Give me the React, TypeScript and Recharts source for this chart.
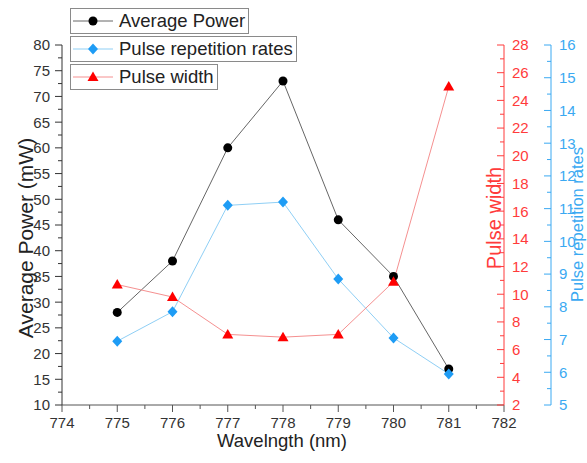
import { LineChart, Line, XAxis, YAxis, Legend, Label } from 'recharts';

// wavelength in nm
const wavelengths = [775, 776, 777, 778, 779, 780, 781];
const averagePower = [28, 38, 60, 73, 46, 35, 17];
const repetitionRates = [6.95, 7.85, 11.1, 11.2, 8.85, 7.05, 5.95];
const pulseWidth = [10.7, 9.8, 7.1, 6.9, 7.1, 10.9, 25.0];

const seriesNames = ['Average Power', 'Pulse repetition rates', 'Pulse width'];

// major tick labels, minor ticks sit halfway between
const xLabels = [774, 775, 776, 777, 778, 779, 780, 781, 782];
const powerLabels = [10, 15, 20, 25, 30, 35, 40, 45, 50, 55, 60, 65, 70, 75, 80];
const widthLabels = [2, 4, 6, 8, 10, 12, 14, 16, 18, 20, 22, 24, 26, 28];
const rateLabels = [5, 6, 7, 8, 9, 10, 11, 12, 13, 14, 15, 16];

const withMinor = (majors: number[]) => {
  const out: number[] = [];
  majors.forEach((v, i) => {
    out.push(v);
    if (i < majors.length - 1) out.push((v + majors[i + 1]) / 2);
  });
  return out;
};

const data = wavelengths.map((w, i) => ({
  w,
  power: averagePower[i],
  rate: repetitionRates[i],
  width: pulseWidth[i],
}));

const FONT = '"Liberation Sans", Arial, sans-serif';
const BLACK = '#000000';
const BLUE = '#1e9cf5';
const RED = '#ff0000';
const AXIS_RED = '#ff3b3b';
const AXIS_BLUE = '#3aa9f2';

const isMajor = (majors: number[], v: number) => majors.some((m) => Math.abs(m - v) < 1e-6);

const makeTick = (side: 'left' | 'right' | 'bottom', majors: number[], color: string, gap: number) =>
  (props: any) => {
    const { x, y, payload } = props;
    const v = payload.value;
    const major = isMajor(majors, v);
    const len = major ? 7 : 4;
    if (side === 'bottom') {
      return (
        <g>
          <line x1={x} y1={y} x2={x} y2={y + len} stroke={color} strokeWidth={1} />
          {major && (
            <text x={x} y={y + 23} textAnchor="middle" fontSize={15} fontFamily={FONT} fill="#333">
              {v}
            </text>
          )}
        </g>
      );
    }
    if (side === 'left') {
      return (
        <g>
          <line x1={x} y1={y} x2={x - len} y2={y} stroke={color} strokeWidth={1} />
          {major && (
            <text x={x - gap} y={y} dy="0.36em" textAnchor="end" fontSize={15} fontFamily={FONT} fill="#333">
              {v}
            </text>
          )}
        </g>
      );
    }
    return (
      <g>
        <line x1={x} y1={y} x2={x - len} y2={y} stroke={color} strokeWidth={1} />
        {major && (
          <text x={x + gap} y={y} dy="0.36em" textAnchor="start" fontSize={15} fontFamily={FONT} fill={color}>
            {v}
          </text>
        )}
      </g>
    );
  };

const circleDot = (p: any) => <circle key={p.index} cx={p.cx} cy={p.cy} r={4.5} fill={BLACK} />;
const diamondDot = (p: any) => (
  <polygon
    key={p.index}
    points={`${p.cx},${p.cy - 5.5} ${p.cx + 5},${p.cy} ${p.cx},${p.cy + 5.5} ${p.cx - 5},${p.cy}`}
    fill={BLUE}
  />
);
const triangleDot = (p: any) => (
  <polygon
    key={p.index}
    points={`${p.cx},${p.cy - 5.5} ${p.cx + 5.5},${p.cy + 4} ${p.cx - 5.5},${p.cy + 4}`}
    fill={RED}
  />
);

const legendStyle: Record<string, { line: string; dot: (p: any) => any }> = {
  power: { line: '#666', dot: circleDot },
  rate: { line: '#8fcff5', dot: diamondDot },
  width: { line: '#f59090', dot: triangleDot },
};

const renderLegend = (props: any) => {
  const items = props.payload || [];
  return (
    <div>
      {items.map((item: any) => {
        const st = legendStyle[item.dataKey];
        return (
          <div
            key={item.dataKey}
            style={{
              display: 'flex',
              alignItems: 'center',
              width: 'fit-content',
              height: 24,
              border: '1px solid #8a8a8a',
              background: '#fff',
              marginBottom: 2,
              paddingRight: 3,
            }}
          >
            <svg width={44} height={24}>
              <line x1={2} y1={12} x2={42} y2={12} stroke={st.line} strokeWidth={1} />
              {st.dot({ cx: 22, cy: 12, index: 0 })}
            </svg>
            <span style={{ marginLeft: 4, fontSize: 18.5, fontFamily: FONT, color: '#222', whiteSpace: 'nowrap' }}>
              {item.value}
            </span>
          </div>
        );
      })}
    </div>
  );
};

export default function App() {
  return (
    <div style={{ width: 587, height: 463, background: '#fff' }}>
      <style>{'body{margin:0}'}</style>
      <LineChart width={587} height={463} data={data} margin={{ top: 45, right: 0, bottom: 0, left: 0 }}>
        <XAxis
          dataKey="w"
          type="number"
          domain={[774, 782]}
          ticks={withMinor(xLabels)}
          interval={0}
          height={58}
          tickSize={0}
          tickMargin={0}
          tickLine={false}
          axisLine={{ stroke: '#555' }}
          tick={makeTick('bottom', xLabels, '#555', 0)}
        >
          <Label
            content={(p: any) => (
              <text x={282} y={p.viewBox.y + 42} textAnchor="middle" fontSize={18.5} fontFamily={FONT} fill="#222">
                Wavelngth (nm)
              </text>
            )}
          />
        </XAxis>
        <YAxis
          yAxisId="ap"
          type="number"
          domain={[10, 80]}
          ticks={withMinor(powerLabels)}
          interval={0}
          width={62}
          tickSize={0}
          tickMargin={0}
          tickLine={false}
          axisLine={{ stroke: '#333' }}
          tick={makeTick('left', powerLabels, '#333', 12)}
        >
          <Label
            content={() => (
              <text x={33} y={238} transform="rotate(-90 33 238)" textAnchor="middle" fontSize={21} fontFamily={FONT} fill="#222">
                Average Power (mW)
              </text>
            )}
          />
        </YAxis>
        <YAxis
          yAxisId="pw"
          orientation="right"
          type="number"
          domain={[2, 28]}
          ticks={withMinor(widthLabels)}
          interval={0}
          width={47}
          tickSize={0}
          tickMargin={0}
          tickLine={false}
          axisLine={{ stroke: AXIS_RED }}
          tick={makeTick('right', widthLabels, AXIS_RED, 8)}
        >
          <Label
            content={(p: any) => {
              const x = p.viewBox.x - 3;
              return (
                <text x={x} y={218} transform={`rotate(-90 ${x} 218)`} textAnchor="middle" fontSize={20} fontFamily={FONT} fill={AXIS_RED}>
                  Pulse width
                </text>
              );
            }}
          />
        </YAxis>
        <YAxis
          yAxisId="rr"
          orientation="right"
          type="number"
          domain={[5, 16]}
          ticks={withMinor(rateLabels)}
          interval={0}
          width={36}
          tickSize={0}
          tickMargin={0}
          tickLine={false}
          axisLine={{ stroke: AXIS_BLUE }}
          tick={makeTick('right', rateLabels, AXIS_BLUE, 8)}
        >
          <Label
            content={(p: any) => {
              const x = p.viewBox.x + 32;
              return (
                <text x={x} y={302} transform={`rotate(-90 ${x} 302)`} textAnchor="start" fontSize={16.5} fontFamily={FONT} fill={AXIS_BLUE}>
                  Pulse repetition rates
                </text>
              );
            }}
          />
        </YAxis>
        <Legend
          layout="vertical"
          align="center"
          verticalAlign="middle"
          content={renderLegend}
          wrapperStyle={{ top: 8, left: 70, width: 'auto' }}
        />
        <Line
          yAxisId="ap"
          dataKey="power"
          name={seriesNames[0]}
          type="linear"
          stroke="#666"
          strokeWidth={1}
          dot={circleDot}
          activeDot={false}
          isAnimationActive={false}
        />
        <Line
          yAxisId="rr"
          dataKey="rate"
          name={seriesNames[1]}
          type="linear"
          stroke="#8fcff5"
          strokeWidth={1}
          dot={diamondDot}
          activeDot={false}
          isAnimationActive={false}
        />
        <Line
          yAxisId="pw"
          dataKey="width"
          name={seriesNames[2]}
          type="linear"
          stroke="#f59090"
          strokeWidth={1}
          dot={triangleDot}
          activeDot={false}
          isAnimationActive={false}
        />
      </LineChart>
    </div>
  );
}
